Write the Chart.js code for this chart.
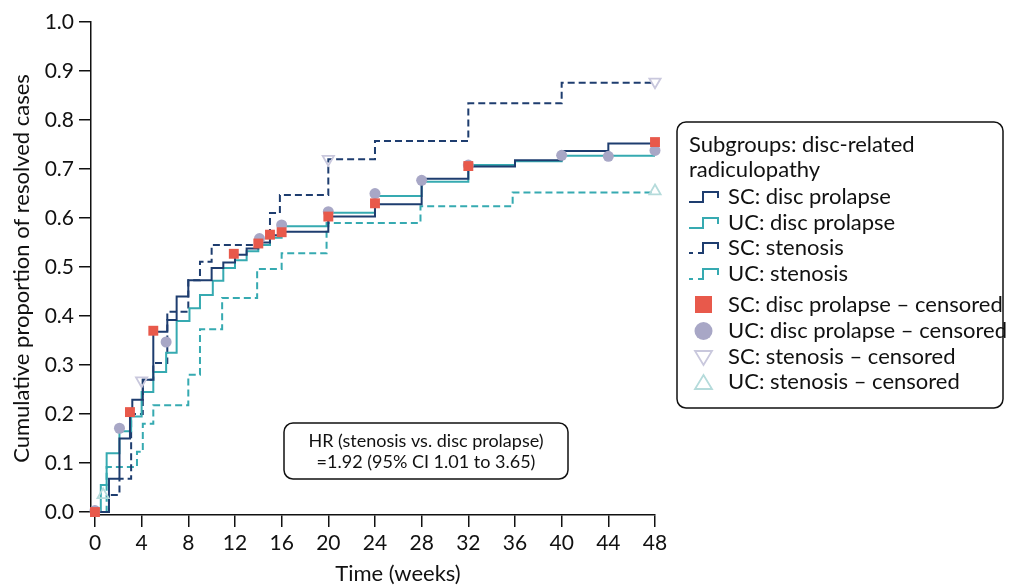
<!DOCTYPE html>
<html lang="en">
<head>
<meta charset="UTF-8">
<title>Cumulative proportion of resolved cases</title>
<style>
  * { margin: 0; padding: 0; box-sizing: border-box; }
  body { background: #fff; }
  #wrap { width: 1013px; height: 585px; }
</style>
</head>
<body>
<div id="wrap"><canvas id="kmChart" width="1013" height="585"></canvas></div>
<script src="https://cdn.jsdelivr.net/npm/chart.js"></script>
<script>
// step curves: time (weeks) at which the curve steps up, and the new cumulative proportion
const scProlapseTime  = [0, 1.2, 2.1, 3.0, 3.2, 4.1, 5.0, 6.2, 7.0, 8.0, 10.0, 11.0, 12.0, 13.0, 14.0, 15.0, 16.0, 20.0, 24.0, 28.0, 32.0, 36.0, 40.0, 44.0, 48.0];
const scProlapseValue = [0, 0.068, 0.15, 0.21, 0.229, 0.27, 0.368, 0.392, 0.44, 0.473, 0.498, 0.509, 0.525, 0.538, 0.55, 0.565, 0.572, 0.603, 0.628, 0.68, 0.705, 0.718, 0.737, 0.752, 0.752];

const ucProlapseTime  = [0, 0.5, 1.0, 2.1, 3.1, 4.0, 5.0, 6.1, 7.0, 8.1, 9.0, 10.1, 11.0, 12.0, 13.0, 14.0, 15.0, 16.0, 20.0, 24.0, 28.0, 32.0, 36.0, 40.0, 48.0];
const ucProlapseValue = [0, 0.055, 0.12, 0.165, 0.195, 0.245, 0.286, 0.325, 0.39, 0.416, 0.443, 0.472, 0.498, 0.514, 0.532, 0.545, 0.56, 0.583, 0.611, 0.645, 0.674, 0.708, 0.716, 0.727, 0.727];

const scStenosisTime  = [0, 1.2, 2.1, 3.1, 4.1, 5.0, 6.2, 8.0, 9.0, 10.0, 15.0, 15.85, 20.0, 24.0, 32.0, 40.0, 48.0];
const scStenosisValue = [0, 0.035, 0.068, 0.2, 0.27, 0.304, 0.409, 0.473, 0.511, 0.545, 0.61, 0.647, 0.72, 0.757, 0.834, 0.876, 0.876];

const ucStenosisTime  = [0, 1.0, 3.6, 4.1, 5.0, 8.0, 9.0, 10.9, 13.9, 16.0, 19.85, 27.9, 35.8, 48.0];
const ucStenosisValue = [0, 0.092, 0.123, 0.18, 0.218, 0.28, 0.373, 0.437, 0.496, 0.528, 0.59, 0.624, 0.652, 0.652];

// censored observations
const scProlapseCensTime  = [0, 3.0, 5.0, 11.9, 14.0, 15.0, 16.0, 20.0, 24.0, 32.0, 48.0];
const scProlapseCensValue = [0, 0.204, 0.37, 0.527, 0.548, 0.566, 0.571, 0.603, 0.63, 0.706, 0.755];
const ucProlapseCensTime  = [0, 2.1, 6.1, 14.1, 16.0, 20.0, 24.0, 28.0, 32.0, 40.0, 44.0, 48.0];
const ucProlapseCensValue = [0.003, 0.171, 0.347, 0.558, 0.586, 0.613, 0.65, 0.677, 0.708, 0.728, 0.726, 0.738];
const scStenosisCensTime  = [4.0, 20.0, 48.0];
const scStenosisCensValue = [0.268, 0.72, 0.878];
const ucStenosisCensTime  = [0.7, 48.0];
const ucStenosisCensValue = [0.035, 0.655];

const xTicks = [0, 4, 8, 12, 16, 20, 24, 28, 32, 36, 40, 44, 48];
const yTicks = [0, 0.1, 0.2, 0.3, 0.4, 0.5, 0.6, 0.7, 0.8, 0.9, 1.0];

const xTitle = 'Time (weeks)';
const hrText = ['HR (stenosis vs. disc prolapse)', '=1.92 (95% CI 1.01 to 3.65)'];
const legendTitle = ['Subgroups: disc-related', 'radiculopathy'];

const NAVY = '#1e3d6f';
const TEAL = '#36aab1';
const RED = '#e8594b';
const LAVENDER = '#a8a7c6';
const TRI_DOWN = '#c9c8dd';
const TRI_UP = '#b5dbdb';
const FONT = 'Lato, "Open Sans", sans-serif';

function pts(t, v) {
    return t.map((x, i) => ({ x: x, y: v[i] }));
}

function stepLine(label, t, v, color, dash) {
    return {
        label: label,
        data: pts(t, v),
        showLine: true,
        stepped: true,
        borderColor: color,
        borderWidth: 2,
        borderDash: dash,
        pointRadius: 0,
        fill: false,
        order: 2
    };
}

function marks(label, t, v, style, fillCol, strokeCol, radius, rot) {
    return {
        label: label,
        data: pts(t, v),
        showLine: false,
        pointStyle: style,
        pointRadius: radius,
        pointRotation: rot || 0,
        pointBackgroundColor: fillCol,
        pointBorderColor: strokeCol,
        pointBorderWidth: style === 'triangle' ? 1.8 : 0,
        clip: false,
        order: 1
    };
}

// legend entries drawn by hand (step glyphs + markers)
const legendItems = [
    { text: 'SC: disc prolapse', kind: 'line', color: NAVY, dashed: false, y: 197 },
    { text: 'UC: disc prolapse', kind: 'line', color: TEAL, dashed: false, y: 223 },
    { text: 'SC: stenosis', kind: 'line', color: NAVY, dashed: true, y: 248 },
    { text: 'UC: stenosis', kind: 'line', color: TEAL, dashed: true, y: 274 },
    { text: 'SC: disc prolapse \u2013 censored', kind: 'square', y: 305 },
    { text: 'UC: disc prolapse \u2013 censored', kind: 'circle', y: 331 },
    { text: 'SC: stenosis \u2013 censored', kind: 'tridown', y: 357 },
    { text: 'UC: stenosis \u2013 censored', kind: 'triup', y: 382 }
];

const boxesPlugin = {
    id: 'boxes',
    afterDraw(chart) {
        const ctx = chart.ctx;
        ctx.save();

        // x axis title (sits right of the axis centre in the original)
        ctx.fillStyle = '#111';
        ctx.font = '22px ' + FONT;
        ctx.textAlign = 'center';
        ctx.textBaseline = 'middle';
        ctx.fillText(xTitle, 398, 574);

        // HR annotation
        ctx.lineWidth = 1.5;
        ctx.strokeStyle = '#111';
        ctx.fillStyle = '#fff';
        ctx.beginPath();
        ctx.roundRect(284, 423, 284, 56, 9);
        ctx.fill();
        ctx.stroke();
        ctx.fillStyle = '#111';
        ctx.font = '18px ' + FONT;
        ctx.fillText(hrText[0], 426, 441);
        ctx.fillText(hrText[1], 426, 462);

        // legend box
        ctx.beginPath();
        ctx.roundRect(677, 122, 326, 286, 9);
        ctx.stroke();
        ctx.font = '22px ' + FONT;
        ctx.textAlign = 'left';
        ctx.fillText(legendTitle[0], 689, 145);
        ctx.fillText(legendTitle[1], 689, 170);

        legendItems.forEach(it => {
            const cy = it.y;
            if (it.kind === 'line') {
                ctx.strokeStyle = it.color;
                ctx.lineWidth = 2;
                ctx.beginPath();
                if (it.dashed) {
                    ctx.moveTo(689, cy + 5);
                    ctx.lineTo(693, cy + 5);
                    ctx.moveTo(698, cy + 5);
                } else {
                    ctx.moveTo(689, cy + 5);
                }
                ctx.lineTo(703, cy + 5);
                ctx.lineTo(703, cy - 5);
                ctx.lineTo(718, cy - 5);
                ctx.lineTo(718, cy + 1);
                ctx.stroke();
            } else if (it.kind === 'square') {
                ctx.fillStyle = RED;
                ctx.fillRect(695, cy - 9, 17, 17);
            } else if (it.kind === 'circle') {
                ctx.fillStyle = LAVENDER;
                ctx.beginPath();
                ctx.arc(703.5, cy, 9, 0, Math.PI * 2);
                ctx.fill();
            } else {
                ctx.strokeStyle = it.kind === 'tridown' ? TRI_DOWN : TRI_UP;
                ctx.lineWidth = 1.8;
                ctx.beginPath();
                if (it.kind === 'tridown') {
                    ctx.moveTo(695, cy - 6);
                    ctx.lineTo(712, cy - 6);
                    ctx.lineTo(703.5, cy + 8);
                } else {
                    ctx.moveTo(695, cy + 7);
                    ctx.lineTo(712, cy + 7);
                    ctx.lineTo(703.5, cy - 7);
                }
                ctx.closePath();
                ctx.stroke();
            }
            ctx.fillStyle = '#111';
            ctx.fillText(it.text, 728, cy);
        });
        ctx.restore();
    }
};

const chart = new Chart(document.getElementById('kmChart'), {
    type: 'scatter',
    data: {
        datasets: [
            stepLine('SC: disc prolapse', scProlapseTime, scProlapseValue, NAVY, []),
            stepLine('UC: disc prolapse', ucProlapseTime, ucProlapseValue, TEAL, []),
            stepLine('SC: stenosis', scStenosisTime, scStenosisValue, NAVY, [7, 4]),
            stepLine('UC: stenosis', ucStenosisTime, ucStenosisValue, TEAL, [7, 4]),
            marks('SC: disc prolapse \u2013 censored', scProlapseCensTime, scProlapseCensValue, 'rect', RED, RED, 7),
            marks('UC: disc prolapse \u2013 censored', ucProlapseCensTime, ucProlapseCensValue, 'circle', LAVENDER, LAVENDER, 5.5),
            marks('SC: stenosis \u2013 censored', scStenosisCensTime, scStenosisCensValue, 'triangle', 'rgba(255,255,255,0)', TRI_DOWN, 6.5, 180),
            marks('UC: stenosis \u2013 censored', ucStenosisCensTime, ucStenosisCensValue, 'triangle', 'rgba(255,255,255,0)', TRI_UP, 6.5)
        ]
    },
    options: {
        responsive: false,
        animation: false,
        layout: { padding: { top: 22, right: 358, bottom: 0, left: 0 } },
        plugins: {
            legend: { display: false },
            tooltip: { enabled: false }
        },
        scales: {
            x: {
                type: 'linear',
                min: -0.34,
                max: 48,
                afterBuildTicks: s => { s.ticks = xTicks.map(v => ({ value: v })); },
                afterFit: s => { s.height = 70; },
                ticks: {
                    autoSkip: false,
                    maxRotation: 0,
                    padding: 4,
                    color: '#111',
                    font: { family: FONT, size: 21 },
                    callback: v => String(v)
                },
                grid: { drawOnChartArea: false, drawTicks: true, tickLength: 12, color: '#111', lineWidth: 1.5 },
                border: { display: true, color: '#111', width: 1.5 },
                title: { display: false }
            },
            y: {
                type: 'linear',
                min: -0.006,
                max: 1.0,
                afterBuildTicks: s => { s.ticks = yTicks.map(v => ({ value: v })); },
                afterFit: s => { s.width = 91; },
                ticks: {
                    padding: 5,
                    color: '#111',
                    font: { family: FONT, size: 21 },
                    callback: v => v.toFixed(1)
                },
                grid: { drawOnChartArea: false, drawTicks: true, tickLength: 12, color: '#111', lineWidth: 1.5 },
                border: { display: true, color: '#111', width: 1.5 },
                title: {
                    display: true,
                    text: 'Cumulative proportion of resolved cases',
                    color: '#111',
                    font: { family: FONT, size: 22 },
                    padding: { top: 9, bottom: 0 }
                }
            }
        }
    },
    plugins: [boxesPlugin]
});
</script>
</body>
</html>
